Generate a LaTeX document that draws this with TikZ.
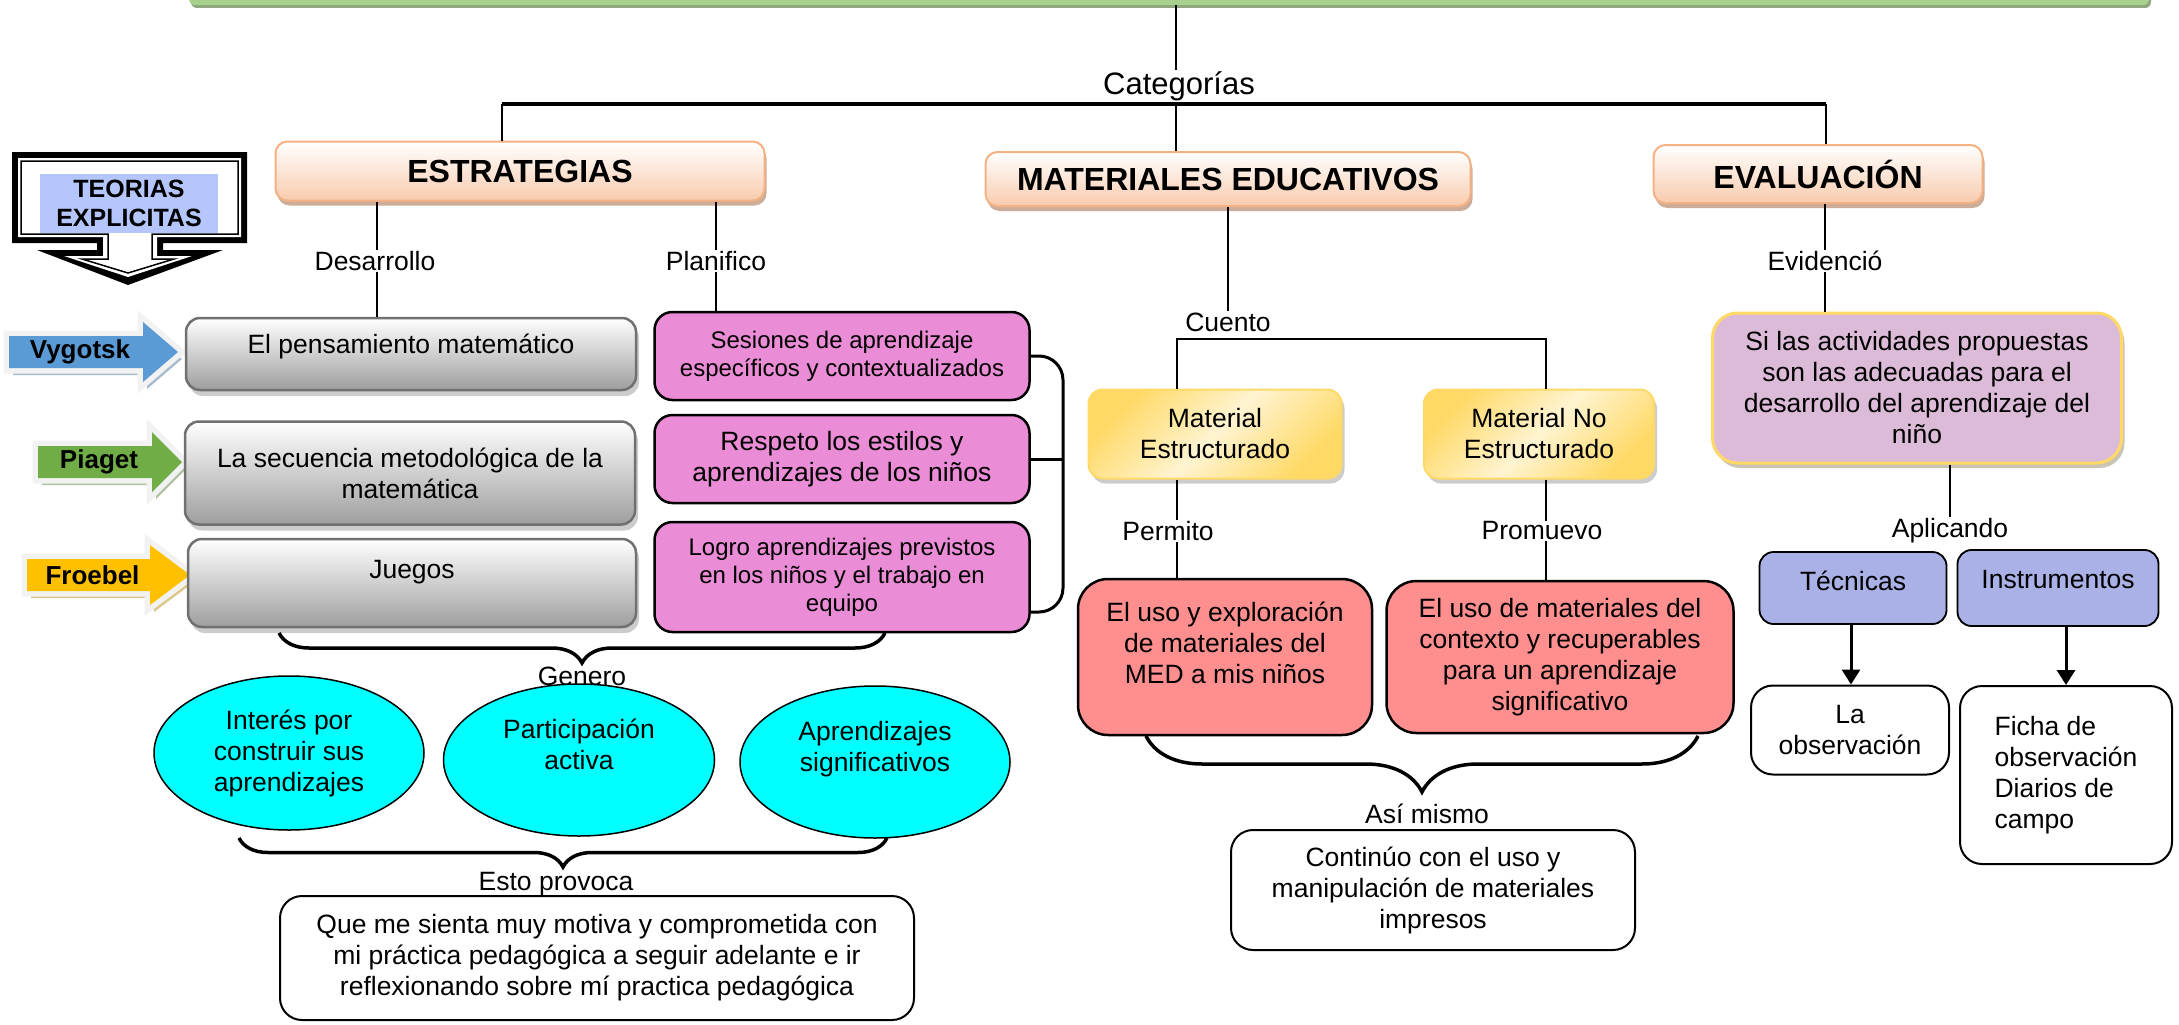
\documentclass[tikz,border=0pt]{standalone}
\usepackage{fontspec}
\setmainfont{Liberation Sans}
\usetikzlibrary{shapes.geometric,shadows,arrows.meta,decorations.pathreplacing}

\definecolor{peach}{HTML}{F8CBAD}
\definecolor{peachBorder}{HTML}{F4B183}
\definecolor{peachShadow}{HTML}{C8A58E}
\definecolor{grayBottom}{HTML}{9E9E9E}
\definecolor{grayBorder}{HTML}{707070}
\definecolor{pinkFill}{HTML}{EA8CD6}
\definecolor{redFill}{HTML}{FF8F8F}
\definecolor{goldFill}{HTML}{FFD966}
\definecolor{creamFill}{HTML}{FFF4D2}
\definecolor{thistleFill}{HTML}{DCBBD9}
\definecolor{lavenderFill}{HTML}{A9B1E6}
\definecolor{cyanFill}{HTML}{00FFFF}
\definecolor{barGreen}{HTML}{A9D18E}
\definecolor{barShadow}{HTML}{8FA77D}
\definecolor{vygBlue}{HTML}{5B9BD5}
\definecolor{piaGreen}{HTML}{70AD47}
\definecolor{froGold}{HTML}{FFC000}
\definecolor{teoBlue}{HTML}{B4C6FC}

\begin{document}
\begin{tikzpicture}
[x=1pt,y=-1pt,
  mapText/.style={font=\fontsize{26.5}{31}\selectfont,align=center},%
  smallText/.style={font=\fontsize{24}{28}\selectfont},%
  linkLabel/.style={mapText,inner sep=1pt},%
  thinLine/.style={line width=2.6pt},%
  darkLine/.style={line width=3pt},%
  heavyLine/.style={line width=4.5pt},%
  braceLine/.style={line width=3.5pt,decorate},%
  arrowLine/.style={line width=3pt,-{Triangle[width=18pt,length=15pt]}},%
  titleBar/.style={rectangle,rounded corners=6pt,fill=barGreen,
    drop shadow={shadow xshift=2pt,shadow yshift=-3pt,fill=barShadow,opacity=1}},%
  headBox/.style={rectangle,rounded corners=12pt,draw=peachBorder,line width=2pt,
    top color=white,bottom color=peach,font=\bfseries\fontsize{32}{36}\selectfont,
    drop shadow={shadow xshift=2pt,shadow yshift=-5pt,fill=peachShadow,opacity=.9}},%
  grayBox/.style={rectangle,rounded corners=14pt,draw=grayBorder,line width=2.5pt,
    top color=white,bottom color=grayBottom,mapText,
    drop shadow={shadow xshift=3pt,shadow yshift=-6pt,fill=black,opacity=.2}},%
  pinkBox/.style={rectangle,rounded corners=18pt,draw=black,line width=2.5pt,
    fill=pinkFill,mapText},%
  redBox/.style={rectangle,rounded corners=30pt,draw=black,line width=2.5pt,
    fill=redFill,mapText},%
  plainBox/.style={rectangle,rounded corners=22pt,draw=black,line width=2pt,
    fill=white,mapText},%
  yellowBox/.style={rectangle,rounded corners=14pt,draw=goldFill,line width=2pt,
    top color=goldFill,bottom color=goldFill,middle color=creamFill,shading angle=45,mapText,
    drop shadow={shadow xshift=3pt,shadow yshift=-5pt,fill=black,opacity=.2}},%
  purpleBox/.style={rectangle,rounded corners=25pt,draw=goldFill,line width=3pt,
    fill=thistleFill,mapText,
    drop shadow={shadow xshift=3pt,shadow yshift=-5pt,fill=black!60!goldFill,opacity=.35}},%
  blueBox/.style={rectangle,rounded corners=14pt,draw=black,line width=1.8pt,
    fill=lavenderFill,mapText},%
  cyanBall/.style={ellipse,draw=black,line width=1.5pt,fill=cyanFill,inner sep=0pt,mapText},%
  teoBox/.style={rectangle,fill=teoBlue,inner sep=0pt,align=center,
    font=\bfseries\fontsize{25}{29}\selectfont},%
  theoryName/.style={inner sep=0pt,font=\bfseries\fontsize{26}{30}\selectfont},%
  arrowGlow/.style={draw=gray!10,fill=gray!10,line width=11pt,line join=miter}]
\path[use as bounding box,fill=white] (0,0) rectangle (2179,1025);

%% title bar and the three categories
\node (tema) at (1169,-13) [titleBar,minimum width=1960,minimum height=36] {};
\node (categorias) at (1179,86) [linkLabel,font=\fontsize{31}{36}\selectfont] {Categorías};
\node (estrategias) at (520,171) [headBox,minimum width=489,minimum height=59] {ESTRATEGIAS};
\node (materiales) at (1228,179) [headBox,minimum width=485,minimum height=54] {MATERIALES EDUCATIVOS};
\node (evaluacion) at (1818,174) [headBox,minimum width=329,minimum height=58] {EVALUACIÓN};
\coordinate (catL) at (502,104);
\coordinate (catM) at (1176,104);
\coordinate (catR) at (1826,104);
\draw[thinLine] (tema.south -| catM) -- (categorias.north -| catM);
\draw[thinLine] (categorias.south -| catM) -- (catM) -- (materiales.north -| catM);
\draw[thinLine] (estrategias.north -| catL) -- (catL);
\draw[thinLine] (evaluacion.north -| catR) -- (catR);
\draw[heavyLine] (catL) -- (catR);

%% teorias explicitas
\fill[black] (12,152) -- (247,152) -- (247,243) -- (163,243) -- (163,250) -- (223,250)
  -- (128,285) -- (37,250) -- (97,250) -- (97,243) -- (12,243) -- cycle;
\fill[white] (18,158) -- (241,158) -- (241,237) -- (157,237) -- (157,256) -- (192,256)
  -- (128,277) -- (64,256) -- (103,256) -- (103,237) -- (18,237) -- cycle;
\draw[line width=1.5pt,fill=white] (21,161) -- (238,161) -- (238,234) -- (152,234)
  -- (152,259) -- (174,259) -- (128,273) -- (82,259) -- (108,259) -- (108,234)
  -- (21,234) -- cycle;
\node (teorias) at (129,203) [teoBox,minimum width=178,minimum height=59] {TEORIAS\\EXPLICITAS};

%% the three theory arrows
\foreach \nm/\col/\xa/\xb/\xt/\yc in {Vygotsk/vygBlue/9/143/178/352,
  Piaget/piaGreen/38/152/182/462, Froebel/froGold/27/150/190/575}
{
  \fill[\col!55!gray,opacity=.6,shift={(4,7)}] (\xa,\yc-16) -- (\xb,\yc-16) -- (\xb,\yc-30)
    -- (\xt,\yc) -- (\xb,\yc+30) -- (\xb,\yc+16) -- (\xa,\yc+16) -- cycle;
  \path[arrowGlow] (\xa,\yc-16) -- (\xb,\yc-16) -- (\xb,\yc-30)
    -- (\xt,\yc) -- (\xb,\yc+30) -- (\xb,\yc+16) -- (\xa,\yc+16) -- cycle;
  \fill[\col] (\xa,\yc-16) -- (\xb,\yc-16) -- (\xb,\yc-30)
    -- (\xt,\yc) -- (\xb,\yc+30) -- (\xb,\yc+16) -- (\xa,\yc+16) -- cycle;
  \node (\nm) at ({(\xa+\xb)/2+4},\yc) [theoryName] {\nm};
}

%% estrategias
\node (desarrollo) at (375,261) [linkLabel] {Desarrollo};
\node (planifico) at (716,261) [linkLabel] {Planifico};
\node (pensamiento) at (411,354) [grayBox,minimum width=450,minimum height=72,text depth=20pt] {El pensamiento matemático};
\node (secuencia) at (410,473) [grayBox,minimum width=450,minimum height=103] {La secuencia metodológica de la\\matemática};
\node (juegos) at (412,583) [grayBox,minimum width=448,minimum height=88,text depth=28pt] {Juegos};
\node (sesiones) at (842,356) [pinkBox,smallText,minimum width=375,minimum height=88] {Sesiones de aprendizaje\\específicos y contextualizados};
\node (respeto) at (842,459) [pinkBox,minimum width=375,minimum height=88] {Respeto los estilos y\\aprendizajes de los niños};
\node (logro) at (842,577) [pinkBox,smallText,minimum width=375,minimum height=110] {Logro aprendizajes previstos\\en los niños y el trabajo en\\equipo};
\draw[thinLine] (estrategias.south -| 377,0) -- (desarrollo.north -| 377,0);
\draw[thinLine] (desarrollo.south -| 377,0) -- (pensamiento.north -| 377,0);
\draw[thinLine] (estrategias.south -| planifico) -- (planifico.north);
\draw[thinLine] (planifico.south) -- (sesiones.north -| planifico);
\coordinate (brk) at (1063,463);
\draw[darkLine,rounded corners=24pt] (sesiones.east) -- (sesiones.east -| brk)
  -- ([yshift=-35pt]logro.east -| brk) -- ([yshift=-35pt]logro.east);
\draw[darkLine] (respeto.east) -- (respeto.east -| brk);

%% genero and its three results
\coordinate (genL) at (279,633);
\coordinate (genR) at (885,633);
\draw[braceLine,decoration={brace,mirror,amplitude=30pt}] (genL) -- (genR);
\node (genero) at (582,676) [linkLabel] {Genero};
\node (interes) at (289,753) [cyanBall,minimum width=270,minimum height=154] {Interés por\\construir sus\\aprendizajes};
\node (participacion) at (579,760) [cyanBall,minimum width=271,minimum height=152,text depth=32pt] {Participación\\activa};
\node (significativos) at (875,762) [cyanBall,minimum width=270,minimum height=152,text depth=32pt] {Aprendizajes\\significativos};
\coordinate (estoL) at (239,838);
\coordinate (estoR) at (887,838);
\draw[braceLine,decoration={brace,mirror,amplitude=29pt}] (estoL) -- (estoR);
\node (esto) at (556,884) [linkLabel] {Esto provoca};
\node (reflexion) at (597,958) [plainBox,minimum width=634,minimum height=124] {Que me sienta muy motiva y comprometida con\\mi práctica pedagógica a seguir adelante e ir\\reflexionando sobre mí practica pedagógica};

%% materiales educativos
\node (cuento) at (1228,322) [linkLabel] {Cuento};
\node (estructurado) at (1215,434) [yellowBox,minimum width=253,minimum height=89] {Material\\Estructurado};
\node (noestructurado) at (1539,434) [yellowBox,minimum width=230,minimum height=89] {Material No\\Estructurado};
\node (permito) at (1168,531) [linkLabel] {Permito};
\node (promuevo) at (1542,531) [linkLabel] {Promuevo};
\node (exploracion) at (1225,657) [redBox,minimum width=294,minimum height=156,text depth=28pt] {El uso y exploración\\de materiales del\\MED a mis niños};
\node (contexto) at (1560,657) [redBox,minimum width=347,minimum height=152] {El uso de materiales del\\contexto y recuperables\\para un aprendizaje\\significativo};
\coordinate (cuL) at (1177,339);
\coordinate (cuR) at (1546,339);
\draw[thinLine] (materiales.south -| cuento) -- (cuento.north);
\draw[thinLine] (estructurado.north -| cuL) -- (cuL) -- (cuR) -- (noestructurado.north -| cuR);
\draw[thinLine] (estructurado.south -| cuL) -- (permito.north -| cuL);
\draw[thinLine] (permito.south -| cuL) -- (exploracion.north -| cuL);
\draw[thinLine] (noestructurado.south -| cuR) -- (promuevo.north -| cuR);
\draw[thinLine] (promuevo.south -| cuR) -- (contexto.north -| cuR);
\coordinate (asiL) at (1146,736);
\coordinate (asiR) at (1698,736);
\draw[braceLine,decoration={brace,mirror,amplitude=56pt}] (asiL) -- (asiR);
\node (asimismo) at (1427,814) [linkLabel] {Así mismo};
\node (continuo) at (1433,890) [plainBox,minimum width=404,minimum height=120] {Continúo con el uso y\\manipulación de materiales\\impresos};

%% evaluacion
\node (evidencio) at (1825,261) [linkLabel] {Evidenció};
\node (actividades) at (1917,388) [purpleBox,minimum width=409,minimum height=150] {Si las actividades propuestas\\son las adecuadas para el\\desarrollo del aprendizaje del\\niño};
\node (aplicando) at (1950,531) [linkLabel] {Aplicando};
\node (tecnicas) at (1853,588) [blueBox,minimum width=187,minimum height=72,text depth=14pt] {Técnicas};
\node (instrumentos) at (2058,588) [blueBox,minimum width=201,minimum height=76,text depth=18pt] {Instrumentos};
\node (observacion) at (1850,730) [plainBox,minimum width=198,minimum height=89] {La\\observación};
\node (ficha) at (2066,775) [plainBox,align=left,minimum width=212,minimum height=178] {Ficha de\\observación\\Diarios de\\campo};
\draw[thinLine] (evaluacion.south -| evidencio) -- (evidencio.north);
\draw[thinLine] (evidencio.south) -- (actividades.north -| evidencio);
\draw[thinLine] (actividades.south -| aplicando) -- (aplicando.north);
\draw[arrowLine] (tecnicas.south -| 1851,0) -- (observacion.north -| 1851,0);
\draw[arrowLine] (instrumentos.south -| 2066,0) -- (ficha.north);
\end{tikzpicture}
\end{document}
